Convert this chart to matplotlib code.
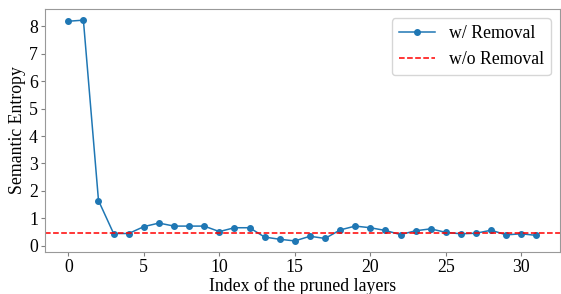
import matplotlib
matplotlib.use("Agg")
import matplotlib.pyplot as plt

plt.rcParams['font.family'] = ['Liberation Serif', 'DejaVu Serif']

layers = list(range(32))
with_removal = [8.18, 8.22, 1.65, 0.45, 0.45, 0.70, 0.83, 0.72, 0.72, 0.72,
                0.52, 0.66, 0.66, 0.32, 0.24, 0.18, 0.35, 0.27, 0.58, 0.72,
                0.66, 0.56, 0.41, 0.55, 0.62, 0.49, 0.44, 0.46, 0.57, 0.40,
                0.44, 0.38]
without_removal = 0.47

fs = 12.8
fig, ax = plt.subplots(figsize=(5.61, 2.94), dpi=100)
ax.plot(layers, with_removal, marker='o', markersize=4, color='#1f77b4',
        linewidth=1.1, label='w/ Removal')
ax.axhline(without_removal, color='red', linestyle='--', linewidth=1.1,
           label='w/o Removal')
ax.set_xlabel('Index of the pruned layers', fontsize=fs, labelpad=1)
ax.set_ylabel('Semantic Entropy', fontsize=fs, labelpad=2)
ax.set_xticks([0, 5, 10, 15, 20, 25, 30])
ax.set_yticks(range(0, 9))
ax.tick_params(labelsize=fs, color='#808080', length=3, pad=2)
for s in ax.spines.values():
    s.set_color('#999999')
ax.legend(fontsize=fs, loc='upper right')
fig.subplots_adjust(left=0.080, right=0.998, top=0.969, bottom=0.143)
fig.savefig('out.png')
